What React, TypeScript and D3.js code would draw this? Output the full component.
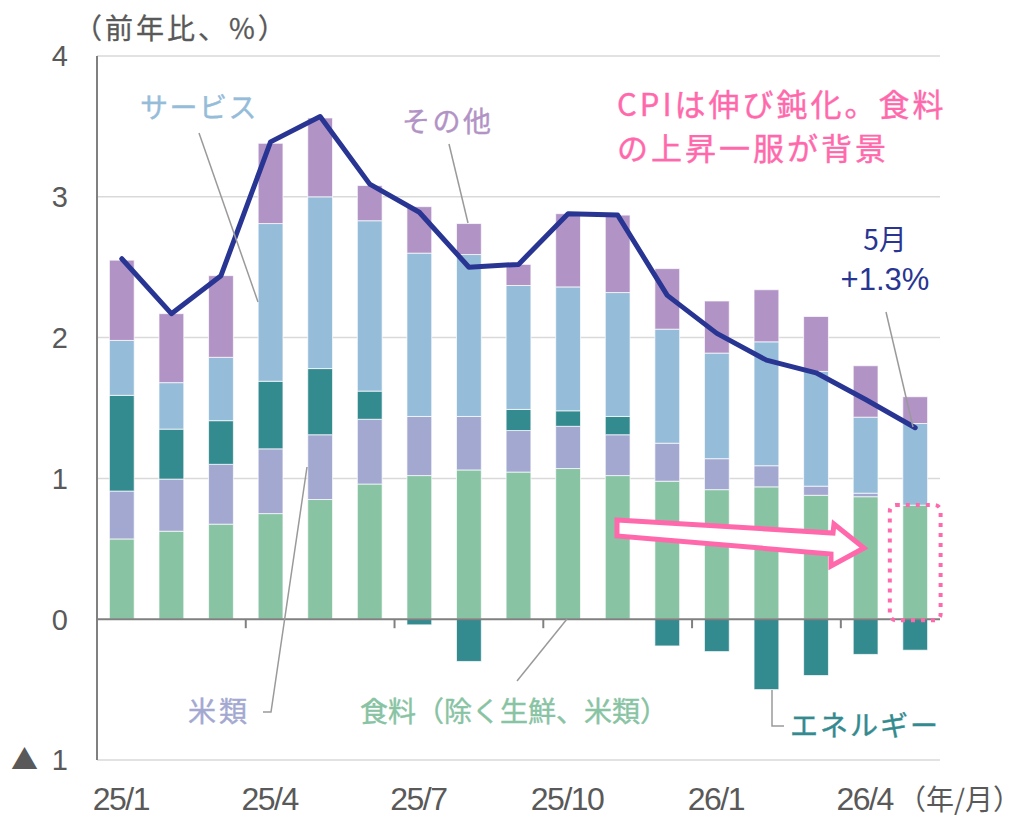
import React, { useRef, useEffect } from "react";
import * as d3 from "d3";

// 月次（前年比寄与度、%）
const months = [
  "25/1", "25/2", "25/3", "25/4", "25/5", "25/6", "25/7", "25/8", "25/9",
  "25/10", "25/11", "25/12", "26/1", "26/2", "26/3", "26/4", "26/5",
];
const food = [0.57, 0.625, 0.675, 0.75, 0.85, 0.96, 1.02, 1.06, 1.045, 1.07, 1.02, 0.98, 0.92, 0.94, 0.88, 0.87, 0.81];
const rice = [0.34, 0.37, 0.425, 0.46, 0.46, 0.46, 0.42, 0.38, 0.295, 0.3, 0.29, 0.27, 0.22, 0.15, 0.065, 0.025, 0];
const energy = [0.68, 0.355, 0.31, 0.48, 0.47, 0.2, -0.04, -0.3, 0.15, 0.11, 0.13, -0.19, -0.23, -0.5, -0.4, -0.25, -0.22];
const services = [0.39, 0.33, 0.45, 1.12, 1.22, 1.21, 1.16, 1.15, 0.88, 0.88, 0.88, 0.81, 0.75, 0.88, 0.815, 0.54, 0.58];
const other = [0.57, 0.49, 0.58, 0.57, 0.56, 0.25, 0.33, 0.22, 0.15, 0.52, 0.55, 0.43, 0.37, 0.37, 0.39, 0.365, 0.19];
const cpi = [2.56, 2.17, 2.44, 3.39, 3.57, 3.09, 2.89, 2.5, 2.52, 2.88, 2.87, 2.3, 2.03, 1.84, 1.75, 1.56, 1.36];

const yTicks = [4, 3, 2, 1, 0, -1];
const yTickLabels = ["4", "3", "2", "1", "0", "1"];
const xLabelMonths = ["25/1", "25/4", "25/7", "25/10", "26/1", "26/4"];

const keys = ["food", "rice", "energy", "services", "other"];
const colors = {
  food: "#88C3A3",
  rice: "#A3A8D1",
  energy: "#338A8F",
  services: "#95BCD9",
  other: "#B293C5",
};

const JP = '"Noto Sans CJK JP", "Noto Sans", sans-serif';
const NUM = '"Liberation Sans", Arial, sans-serif';
const GRAY = "#595959";
const PINK = "#FF69AC";
const NAVY = "#283593";

const App = () => {
  const ref = useRef(null);

  useEffect(() => {
    const W = 1028;
    const H = 817;
    const left = 97;
    const right = 940;

    const svg = d3
      .select(ref.current)
      .append("svg")
      .attr("width", W)
      .attr("height", H)
      .style("position", "absolute")
      .style("left", 0)
      .style("top", 0)
      .style("background", "#fff");

    const x = d3
      .scaleBand()
      .domain(months)
      .range([left, right])
      .paddingInner(0.5)
      .paddingOuter(0.25);

    const y = d3.scaleLinear().domain([-1, 4]).range([760, 56]);

    // grid
    svg
      .selectAll(".grid")
      .data([4, 3, 2, 1, -1])
      .enter()
      .append("line")
      .attr("x1", left)
      .attr("x2", right)
      .attr("y1", (d) => y(d))
      .attr("y2", (d) => y(d))
      .attr("stroke", "#d9d9d9")
      .attr("stroke-width", 1.5);

    // y labels
    svg
      .selectAll(".ylab")
      .data(yTicks)
      .enter()
      .append("text")
      .attr("x", 68)
      .attr("y", (d) => y(d))
      .attr("dy", "0.36em")
      .attr("text-anchor", "end")
      .attr("fill", GRAY)
      .style("font-family", NUM)
      .style("font-size", "29px")
      .text((d, i) => yTickLabels[i]);

    // ▲ for the negative tick
    svg
      .append("text")
      .attr("x", 11)
      .attr("y", y(-1))
      .attr("dy", "0.36em")
      .attr("fill", GRAY)
      .style("font-family", JP)
      .style("font-size", "27px")
      .text("▲");

    // stacked bars
    const table = months.map((m, i) => ({
      month: m,
      food: food[i],
      rice: rice[i],
      energy: energy[i],
      services: services[i],
      other: other[i],
    }));
    const series = d3.stack().keys(keys).offset(d3.stackOffsetDiverging)(table);

    svg
      .selectAll(".series")
      .data(series)
      .enter()
      .append("g")
      .attr("fill", (s) => colors[s.key])
      .selectAll("rect")
      .data((s) => s)
      .enter()
      .append("rect")
      .attr("x", (d) => x(d.data.month))
      .attr("width", x.bandwidth())
      .attr("y", (d) => y(Math.max(d[0], d[1])))
      .attr("height", (d) => Math.abs(y(d[0]) - y(d[1])))
      .attr("stroke", "rgba(255,255,255,0.7)")
      .attr("stroke-width", 1);

    // axes
    svg
      .append("line")
      .attr("x1", left)
      .attr("x2", left)
      .attr("y1", y(4))
      .attr("y2", y(-1))
      .attr("stroke", "#808080")
      .attr("stroke-width", 2);
    svg
      .append("line")
      .attr("x1", left)
      .attr("x2", right)
      .attr("y1", y(0))
      .attr("y2", y(0))
      .attr("stroke", "#808080")
      .attr("stroke-width", 2);

    const gap = (x.step() - x.bandwidth()) / 2;
    svg
      .selectAll(".tick")
      .data(months.filter((m, i) => i > 0 && i % 3 === 0))
      .enter()
      .append("line")
      .attr("x1", (d) => x(d) - gap)
      .attr("x2", (d) => x(d) - gap)
      .attr("y1", y(0))
      .attr("y2", y(0) + 9)
      .attr("stroke", "#808080")
      .attr("stroke-width", 2);

    svg
      .selectAll(".xlab")
      .data(xLabelMonths)
      .enter()
      .append("text")
      .attr("x", (d) => x(d) + x.bandwidth() / 2 - 1)
      .attr("y", 810)
      .attr("text-anchor", "middle")
      .attr("fill", GRAY)
      .style("font-family", NUM)
      .style("font-size", "32px")
      .style("letter-spacing", "-1.5px")
      .text((d) => d);

    svg
      .append("text")
      .attr("x", 898)
      .attr("y", 810)
      .attr("fill", GRAY)
      .style("font-family", JP)
      .style("font-size", "28px")
      .text("（年/月）");

    svg
      .append("text")
      .attr("x", 74)
      .attr("y", 39)
      .attr("fill", GRAY)
      .attr("stroke", GRAY)
      .attr("stroke-width", 0.3)
      .style("font-family", JP)
      .style("font-size", "28px")
      .style("letter-spacing", "3px")
      .text("（前年比、%）");

    // CPI line
    const line = d3
      .line()
      .x((d, i) => x(months[i]) + x.bandwidth() / 2)
      .y((d) => y(d));
    svg
      .append("path")
      .datum(cpi)
      .attr("d", line)
      .attr("fill", "none")
      .attr("stroke", NAVY)
      .attr("stroke-width", 5)
      .attr("stroke-linejoin", "round")
      .attr("stroke-linecap", "round");

    // leader lines
    const leaders = [
      [[199, 133], [258, 302]],
      [[449, 144], [468, 223]],
      [[886, 312], [913, 427]],
      [[307, 467], [271, 712], [263, 712]],
      [[567, 619], [517, 681]],
      [[772, 690], [772, 726], [784, 726]],
    ];
    svg
      .selectAll(".leader")
      .data(leaders)
      .enter()
      .append("path")
      .attr("d", (d) => d3.line()(d))
      .attr("fill", "none")
      .attr("stroke", "#9a9a9a")
      .attr("stroke-width", 1.5);

    const labels = [
      { t: "サービス", x: 140, y: 118, c: colors.services, ls: 1.5 },
      { t: "その他", x: 402, y: 132, c: colors.other, ls: 2.5 },
      { t: "米類", x: 188, y: 722, c: colors.rice, ls: 3 },
      { t: "食料（除く生鮮、米類）", x: 360, y: 722, c: colors.food, ls: 0 },
      { t: "エネルギー", x: 790, y: 736, c: colors.energy, ls: 2 },
      { t: "CPIは伸び鈍化。食料", x: 617, y: 116, c: PINK, ls: 3, fs: 31 },
      { t: "の上昇一服が背景", x: 617, y: 160, c: PINK, ls: 3, fs: 31 },
    ];
    svg
      .selectAll(".lab")
      .data(labels)
      .enter()
      .append("text")
      .attr("x", (d) => d.x)
      .attr("y", (d) => d.y)
      .attr("fill", (d) => d.c)
      .attr("stroke", (d) => d.c)
      .attr("stroke-width", 0.4)
      .style("font-family", JP)
      .style("font-size", (d) => `${d.fs || 28}px`)
      .style("letter-spacing", (d) => `${d.ls}px`)
      .text((d) => d.t);

    svg
      .append("text")
      .attr("x", 885)
      .attr("y", 250)
      .attr("text-anchor", "middle")
      .attr("fill", NAVY)
      .style("font-family", JP)
      .style("font-size", "28px")
      .text("5月");
    svg
      .append("text")
      .attr("x", 885)
      .attr("y", 290)
      .attr("text-anchor", "middle")
      .attr("fill", NAVY)
      .style("font-family", NUM)
      .style("font-size", "31px")
      .text("+1.3%");

    // arrow
    svg
      .append("path")
      .attr(
        "d",
        "M617,520 L833,533 L834,524 L864,548 L831,566 L831,554 L617,536 Z"
      )
      .attr("fill", "#fff")
      .attr("stroke", PINK)
      .attr("stroke-width", 5)
      .attr("stroke-linejoin", "miter");

    // dotted box around latest food bar
    const last = months[months.length - 1];
    svg
      .append("rect")
      .attr("x", x(last) - 13)
      .attr("y", 505)
      .attr("width", x.bandwidth() + 26)
      .attr("height", y(0) - 505 + 1)
      .attr("rx", 6)
      .attr("fill", "none")
      .attr("stroke", PINK)
      .attr("stroke-width", 4)
      .attr("stroke-dasharray", "4 6");

    return () => {
      ref.current.innerHTML = "";
    };
  }, []);

  return <div ref={ref}></div>;
};

export default App;
